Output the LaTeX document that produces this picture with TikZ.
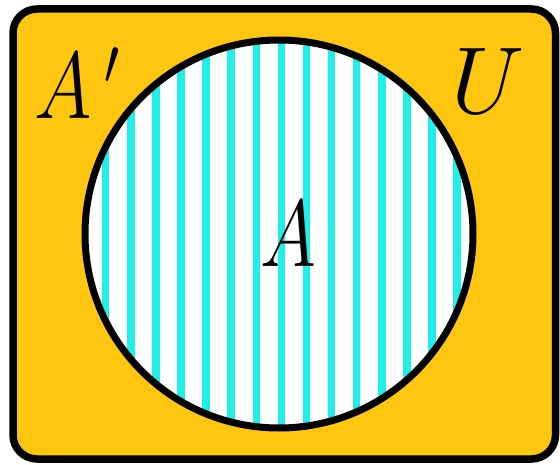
\documentclass[tikz,border=0pt]{standalone}
\definecolor{uorange}{RGB}{254,198,14}
\definecolor{ucyan}{RGB}{32,238,232}
\begin{document}
\begin{tikzpicture}[x=1pt,y=-1pt,
  lbl/.style={anchor=base,inner sep=0pt,font=\LARGE,scale=5.5}]
\useasboundingbox (0,0) rectangle (560,465);
\draw[line width=7.5pt,fill=uorange,rounded corners=24pt] (13,9) rectangle (555.5,459);
\fill[white] (279,234) circle (194);
\begin{scope}
  \clip (279,234) circle (194);
  \foreach \i in {-2,...,14} {
    \fill[ucyan] ({127+25.1*\i},30) rectangle ({134.5+25.1*\i},440);
  }
\end{scope}
\draw[line width=7pt] (279,234) circle (194);
\node[lbl,xscale=0.82] (ac) at (78,119) {$A\,'$};
\node[lbl] (u) at (488,114) {$U$};
\node[lbl,xscale=0.8] (a) at (288,267) {$A$};
\end{tikzpicture}
\end{document}
